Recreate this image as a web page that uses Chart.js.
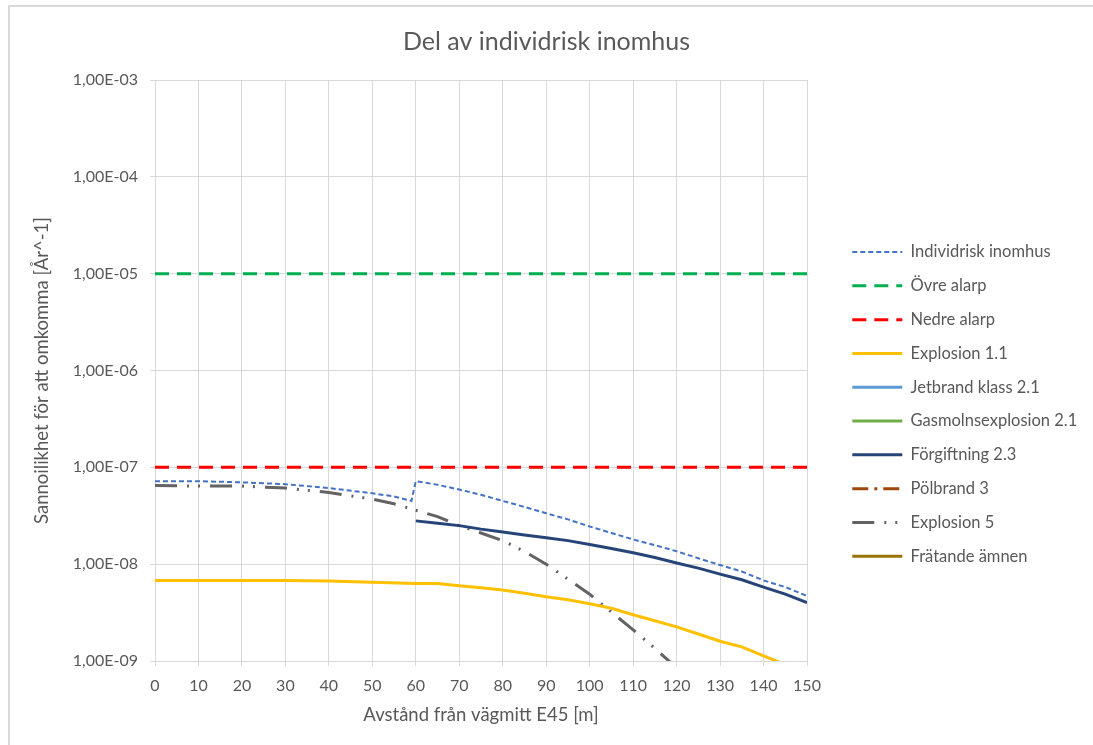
<!DOCTYPE html>
<html>
<head>
<meta charset="utf-8">
<script src="https://cdn.jsdelivr.net/npm/chart.js@4/dist/chart.umd.min.js"></script>
<style>
  html, body { margin: 0; padding: 0; background: #ffffff; overflow: hidden; }
  #wrap { position: relative; width: 1093px; height: 745px; overflow: hidden; }
  #frame { position: absolute; left: 8px; top: 5px; width: 1200px; height: 900px;
           border-left: 2px solid #d9d9d9; border-top: 2px solid #d9d9d9; pointer-events: none; }
  canvas { position: absolute; left: 0; top: 0; }
</style>
</head>
<body>
<div id="wrap">
  <canvas id="c" width="1093" height="745"></canvas>
  <div id="frame"></div>
</div>
<script>
// ---------- data ----------
const chartTitle = 'Del av individrisk inomhus';
const xTitle = 'Avstånd från vägmitt E45 [m]';
const yTitle = 'Sannoilikhet för att omkomma [År^-1]';

const yTickValues = [1e-9, 1e-8, 1e-7, 1e-6, 1e-5, 1e-4, 1e-3];
const yTickLabels = ['1,00E-09', '1,00E-08', '1,00E-07', '1,00E-06', '1,00E-05', '1,00E-04', '1,00E-03'];

const seriesNames = ['Individrisk inomhus', 'Övre alarp', 'Nedre alarp', 'Explosion 1.1',
  'Jetbrand klass 2.1', 'Gasmolnsexplosion 2.1', 'Förgiftning 2.3', 'Pölbrand 3',
  'Explosion 5', 'Frätande ämnen'];

const individX = [0, 10, 20, 30, 40, 50, 55, 59, 60, 65, 70, 75, 80, 85, 90, 95, 100, 105, 110, 115, 120, 125, 130, 135, 140, 145, 150];
const individY = [7.2e-8, 7.2e-8, 7.0e-8, 6.7e-8, 6.1e-8, 5.4e-8, 5.0e-8, 4.5e-8, 7.2e-8, 6.6e-8, 5.9e-8, 5.2e-8, 4.5e-8, 3.9e-8, 3.35e-8, 2.9e-8, 2.45e-8, 2.1e-8, 1.8e-8, 1.57e-8, 1.36e-8, 1.15e-8, 9.8e-9, 8.4e-9, 6.8e-9, 5.8e-9, 4.7e-9];

const alarpX = [0, 150];
const ovreAlarpY = [1e-5, 1e-5];
const nedreAlarpY = [1e-7, 1e-7];

const expl11X = [0, 10, 20, 30, 40, 50, 60, 65, 70, 75, 80, 85, 90, 95, 100, 105, 110, 115, 120, 125, 130, 135, 140, 145, 150];
const expl11Y = [6.8e-9, 6.8e-9, 6.8e-9, 6.8e-9, 6.7e-9, 6.5e-9, 6.3e-9, 6.3e-9, 6.0e-9, 5.7e-9, 5.4e-9, 5.0e-9, 4.6e-9, 4.3e-9, 3.9e-9, 3.5e-9, 3.0e-9, 2.6e-9, 2.25e-9, 1.9e-9, 1.6e-9, 1.4e-9, 1.13e-9, 9.2e-10, 7.5e-10];

const forgX = [60, 65, 70, 75, 80, 85, 90, 95, 100, 105, 110, 115, 120, 125, 130, 135, 140, 145, 150];
const forgY = [2.8e-8, 2.65e-8, 2.5e-8, 2.3e-8, 2.15e-8, 2.0e-8, 1.87e-8, 1.75e-8, 1.6e-8, 1.45e-8, 1.31e-8, 1.17e-8, 1.03e-8, 9.1e-9, 7.9e-9, 6.9e-9, 5.8e-9, 4.9e-9, 4.0e-9];

const expl5X = [0, 10, 20, 30, 40, 50, 55, 60, 65, 70, 75, 80, 85, 90, 95, 100, 105, 110, 115, 120];
const expl5Y = [6.5e-8, 6.4e-8, 6.4e-8, 6.1e-8, 5.5e-8, 4.7e-8, 4.2e-8, 3.6e-8, 3.1e-8, 2.5e-8, 2.1e-8, 1.75e-8, 1.35e-8, 1.0e-8, 7.0e-9, 4.9e-9, 3.2e-9, 2.1e-9, 1.35e-9, 8.5e-10];

const emptyX = [];
const emptyY = [];

// ---------- build ----------
const pts = (xs, ys) => xs.map((x, i) => ({ x: x, y: ys[i] }));
const FONT = 'Lato';
const TXT = '#595959';
const GRID = '#d9d9d9';

function ds(i, xs, ys, color, width, dash) {
  return {
    label: seriesNames[i], data: pts(xs, ys), borderColor: color, backgroundColor: color,
    borderWidth: width, borderDash: dash, pointRadius: 0, pointHoverRadius: 0,
    tension: 0, fill: false
  };
}

const datasets = [
  ds(0, individX, individY, '#4472C4', 2, [5, 3]),
  ds(1, alarpX, ovreAlarpY, '#00B050', 3, [14, 8]),
  ds(2, alarpX, nedreAlarpY, '#FF0000', 3, [14, 8]),
  ds(3, expl11X, expl11Y, '#FFC000', 3, []),
  ds(4, emptyX, emptyY, '#5B9BD5', 3, []),
  ds(5, emptyX, emptyY, '#70AD47', 3, []),
  ds(6, forgX, forgY, '#264478', 3, []),
  ds(7, emptyX, emptyY, '#9E480E', 3, [16, 6, 3, 6]),
  ds(8, expl5X, expl5Y, '#636363', 3, [22, 10, 2, 9, 2, 10]),
  ds(9, emptyX, emptyY, '#997300', 3, [])
];

const LEGEND_W = 258;
const legendWidthPlugin = {
  id: 'legendWidth',
  beforeLayout(chart) {
    const lg = chart.legend;
    if (lg && !lg.__wrapped) {
      const orig = lg.fit.bind(lg);
      lg.fit = function () { orig(); this.width = LEGEND_W; };
      lg.__wrapped = true;
    }
  }
};

new Chart(document.getElementById('c'), {
  type: 'line',
  data: { datasets: datasets },
  plugins: [legendWidthPlugin],
  options: {
    responsive: false,
    animation: false,
    layout: { padding: { left: 0, right: 0, top: 0, bottom: 15 } },
    plugins: {
      title: {
        display: true, text: chartTitle, color: TXT,
        font: { family: FONT, size: 25, weight: 'normal' },
        padding: { top: 27, bottom: 23 }
      },
      legend: {
        position: 'right',
        align: 'start',
        title: { display: true, text: '', font: { family: FONT, size: 10 }, padding: { top: 214.5, bottom: 0 } },
        labels: {
          color: TXT, font: { family: FONT, size: 16.5 },
          usePointStyle: true, pointStyle: 'line', pointStyleWidth: 50,
          boxHeight: 16.5, padding: 17.3,
          generateLabels: chart => chart.data.datasets.map((d, i) => ({
            text: d.label, fillStyle: d.borderColor, strokeStyle: d.borderColor,
            lineWidth: d.borderWidth, lineDash: d.borderDash, lineCap: 'butt',
            pointStyle: 'line', hidden: false, datasetIndex: i, fontColor: TXT
          }))
        }
      },
      tooltip: { enabled: false }
    },
    scales: {
      x: {
        type: 'linear', min: 0, max: 150,
        ticks: { stepSize: 10, color: TXT, font: { family: FONT, size: 16 }, padding: 10, maxRotation: 0 },
        grid: { color: GRID, tickLength: 5, drawTicks: true },
        border: { color: GRID },
        title: { display: true, text: xTitle, color: TXT, font: { family: FONT, size: 18.5 }, padding: { top: 0, bottom: 4 } },
        afterFit: s => { s.height = 69; }
      },
      y: {
        type: 'logarithmic', min: 1e-9, max: 1e-3, position: 'left',
        afterBuildTicks: s => { s.ticks = yTickValues.map(v => ({ value: v })); },
        ticks: {
          color: TXT, font: { family: FONT, size: 16 }, padding: 12,
          callback: (v) => yTickLabels[yTickValues.indexOf(v)]
        },
        grid: { color: GRID, tickLength: 5, drawTicks: true },
        border: { color: GRID },
        title: { display: true, text: yTitle, color: TXT, font: { family: FONT, size: 18.5 }, padding: { top: 31, bottom: 0 } },
        afterFit: s => { s.width = 155; }
      },
      gap: {
        type: 'linear', position: 'right', display: true,
        ticks: { display: false }, grid: { display: false }, border: { display: false },
        title: { display: false },
        afterFit: s => { s.width = 28; }
      }
    }
  }
});
</script>
</body>
</html>
